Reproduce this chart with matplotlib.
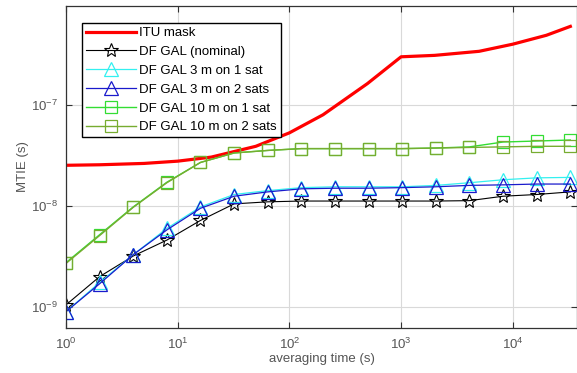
import numpy as np
import matplotlib.pyplot as plt
from matplotlib.ticker import NullLocator

plt.rcParams['font.family'] = ['Liberation Sans', 'DejaVu Sans']
plt.rcParams['mathtext.fontset'] = 'custom'
plt.rcParams['mathtext.rm'] = 'Liberation Sans'
plt.rcParams['mathtext.it'] = 'Liberation Sans:italic'

# averaging times of the markers (powers of two)
tau = [1, 2, 4, 8, 16, 32, 64, 128, 256, 512, 1024, 2048, 4096, 8192, 16384, 32768]

# ITU mask
itu_tau = [1, 2, 5, 10, 20, 50, 100, 200, 500, 1000, 2000, 5000, 10000, 20000, 32768]
itu_mtie = [2.53e-8, 2.56e-8, 2.64e-8, 2.78e-8, 3.05e-8, 3.9e-8, 5.3e-8, 8.0e-8,
            1.63e-7, 3.0e-7, 3.1e-7, 3.4e-7, 4.0e-7, 4.9e-7, 6.0e-7]

nominal = [1.05e-9, 2.0e-9, 3.2e-9, 4.6e-9, 7.2e-9, 1.05e-8, 1.1e-8, 1.12e-8,
           1.12e-8, 1.12e-8, 1.12e-8, 1.12e-8, 1.13e-8, 1.25e-8, 1.3e-8, 1.38e-8]
gal3_1sat = [0.9e-9, 1.75e-9, 3.3e-9, 6.0e-9, 9.8e-9, 1.3e-8, 1.42e-8, 1.52e-8,
             1.55e-8, 1.55e-8, 1.55e-8, 1.6e-8, 1.7e-8, 1.82e-8, 1.9e-8, 1.92e-8]
gal3_2sat = [0.9e-9, 1.7e-9, 3.3e-9, 5.8e-9, 9.5e-9, 1.25e-8, 1.38e-8, 1.48e-8,
             1.5e-8, 1.5e-8, 1.52e-8, 1.55e-8, 1.6e-8, 1.62e-8, 1.65e-8, 1.65e-8]
gal10_1sat = [2.75e-9, 5.2e-9, 9.8e-9, 1.72e-8, 2.7e-8, 3.35e-8, 3.55e-8, 3.7e-8,
              3.7e-8, 3.7e-8, 3.7e-8, 3.75e-8, 3.85e-8, 4.3e-8, 4.4e-8, 4.5e-8]
gal10_2sat = [2.7e-9, 5.1e-9, 9.7e-9, 1.7e-8, 2.7e-8, 3.35e-8, 3.55e-8, 3.7e-8,
              3.7e-8, 3.7e-8, 3.7e-8, 3.75e-8, 3.8e-8, 3.85e-8, 3.9e-8, 3.9e-8]

x_ticks = [1, 10, 100, 1000, 10000]
y_ticks = [1e-9, 1e-8, 1e-7]

fig = plt.figure(figsize=(5.77, 3.73), dpi=100)
ax = fig.add_axes([66 / 577, 1 - 328 / 373, 1 - 66 / 577, 322 / 373])

ax.plot(itu_tau, itu_mtie, '-', color='#ff0000', lw=2.3, label='ITU mask')
ax.plot(tau, nominal, '-*', color='black', lw=0.8, ms=10, mfc='none', mew=0.8,
        label='DF GAL (nominal)')
ax.plot(tau, gal3_1sat, '-^', color='#33f0f0', lw=0.9, ms=10.5, mfc='none', mew=0.9,
        label='DF GAL 3 m on 1 sat')
ax.plot(tau, gal3_2sat, '-^', color='#1a1acc', lw=0.9, ms=10.5, mfc='none', mew=0.9,
        label='DF GAL 3 m on 2 sats')
ax.plot(tau, gal10_1sat, '-s', color='#33dd33', lw=1.0, ms=8.5, mfc='none', mew=0.9,
        label='DF GAL 10 m on 1 sat')
ax.plot(tau, gal10_2sat, '-s', color='#77ac30', lw=1.0, ms=8.5, mfc='none', mew=0.9,
        label='DF GAL 10 m on 2 sats')

ax.set_xscale('log')
ax.set_yscale('log')
ax.set_xlim(1, 10 ** 4.575)
ax.set_ylim(6.2e-10, 9.55e-7)
ax.set_xticks(x_ticks)
ax.set_yticks(y_ticks)
ax.xaxis.set_minor_locator(NullLocator())
ax.yaxis.set_minor_locator(NullLocator())

ax.grid(True, color='#d9d9d9', lw=0.8)
ax.set_axisbelow(True)
ax.tick_params(direction='in', top=True, right=True, length=4, width=0.8,
               colors='#333333', labelcolor='#555555', labelsize=9.5, pad=6)
for s in ax.spines.values():
    s.set_color('#333333')
    s.set_linewidth(0.9)

ax.set_xlabel('averaging time (s)', fontsize=9.5, color='#555555', labelpad=1)
ax.set_ylabel('MTIE (s)', fontsize=9.5, color='#555555', labelpad=1)

leg = ax.legend(loc='upper left', bbox_to_anchor=(0.031, 0.947), borderaxespad=0,
                fontsize=9.5, handlelength=3.8, handletextpad=0.25, labelspacing=0.5,
                fancybox=False, framealpha=1, edgecolor='black', borderpad=0.3)
leg.get_frame().set_linewidth(1.0)

fig.savefig('out.png', dpi=100)
